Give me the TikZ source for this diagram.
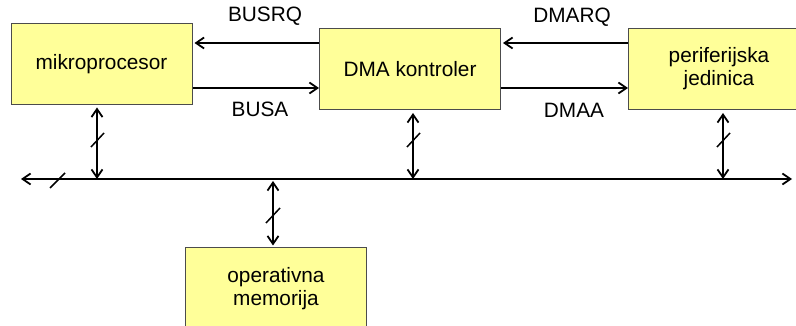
\documentclass[tikz,border=0pt]{standalone}
\usepackage{fontspec}
\setmainfont{Liberation Sans}
\usetikzlibrary{arrows.meta}
\definecolor{unitfill}{HTML}{FFFF99}
\begin{document}
\begin{tikzpicture}[x=1pt,y=-1pt,
  unit/.style={draw=black!70,line width=1pt,fill=unitfill,
    minimum width=181pt,minimum height=81pt,inner sep=0pt,align=center,
    font=\fontsize{20.8}{23}\selectfont},
  tip/.tip={Straight Barb[length=8pt,width=11pt,line width=1.8pt]},
  sig/.style={line width=1.8pt,-tip},
  both/.style={line width=1.8pt,tip-tip},
  tick/.style={line width=1.5pt},
  lbl/.style={font=\fontsize{20.8}{23}\selectfont,inner sep=0pt}]
\useasboundingbox (0,0) rectangle (796,326);
\clip (0,0) rectangle (796,326);

% functional units
\node[unit] (mp)  at (101.5,64.5) {mikroprocesor};
\node[unit] (dma) at (410,69) {DMA kontroler};
\node[unit] (per) at (719,69) {periferijska\\jedinica};
\node[unit] (mem) at (276,288.5) {operativna\\memorija};

% handshake lines
\coordinate (hq) at (0,43);
\coordinate (ha) at (0,88);
\draw[sig] (dma.west |- hq) -- ([xshift=2pt]mp.east |- hq);
\draw[sig] (mp.east |- ha) -- (dma.west |- ha);
\draw[sig] (per.west |- hq) -- ([xshift=2pt]dma.east |- hq);
\draw[sig] (dma.east |- ha) -- (per.west |- ha);
\node[lbl] (busrq) at (265,16.5) {BUSRQ};
\node[lbl] (busa)  at (260,109.5) {BUSA};
\node[lbl] (dmarq) at (572,17) {DMARQ};
\node[lbl] (dmaa)  at (574,110) {DMAA};

% system bus
\coordinate (busL) at (21,179);
\coordinate (busR) at (792,179);
\draw[both] (busL) -- (busR);
\draw[tick] (50,188) -- (65,173);

% bus taps
\coordinate (t1) at (97,179);
\coordinate (t2) at (413,179);
\coordinate (t3) at (723,179);
\coordinate (t4) at (273,181);
\draw[both] ([yshift=-2pt]mp.south -| t1) -- (t1);
\draw[both] ([yshift=-3pt]dma.south -| t2) -- (t2);
\draw[both] ([yshift=-3pt]per.south -| t3) -- (t3);
\draw[both] (t4) -- ([yshift=2pt]mem.north -| t4);
\draw[tick] (91,147) -- (104,133);
\draw[tick] (407,147) -- (420,133);
\draw[tick] (717,147) -- (730,133);
\draw[tick] (266,223) -- (280,208);
\end{tikzpicture}
\end{document}
